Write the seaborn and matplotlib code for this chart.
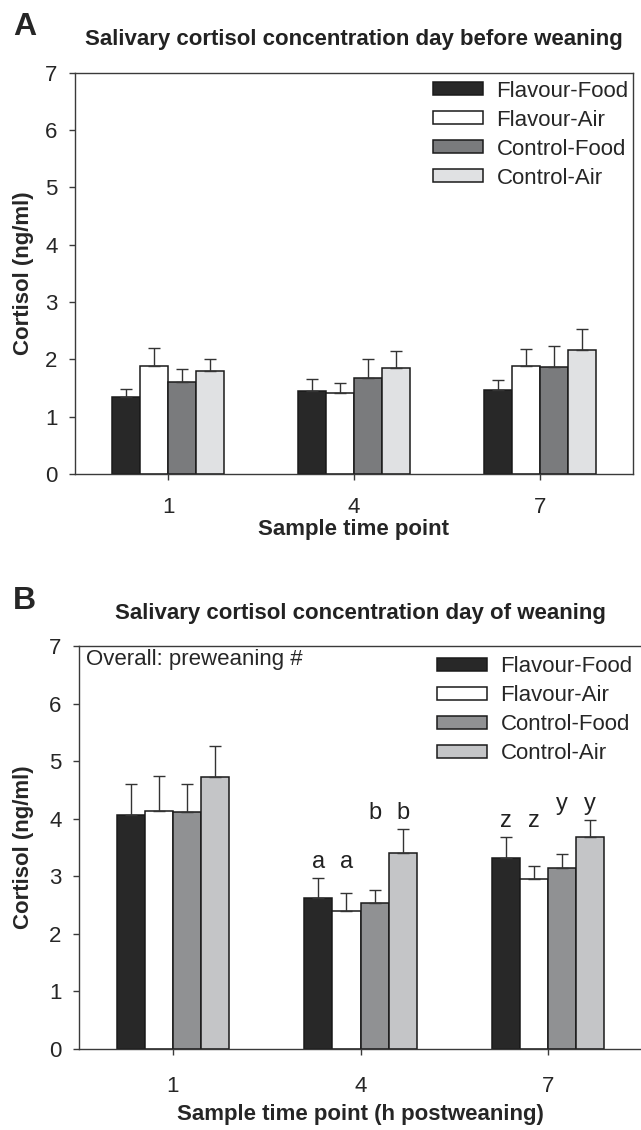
import numpy as np
import pandas as pd
import matplotlib
matplotlib.use("Agg")
import matplotlib.pyplot as plt
import seaborn as sns

# data
time_points = ['1', '4', '7']
groups = ['Flavour-Food', 'Flavour-Air', 'Control-Food', 'Control-Air']

# panel A: day before weaning (mean, upper SEM)
mean_a = {'Flavour-Food': [1.34, 1.45, 1.47],
          'Flavour-Air':  [1.88, 1.41, 1.89],
          'Control-Food': [1.61, 1.68, 1.87],
          'Control-Air':  [1.80, 1.85, 2.16]}
sem_a = {'Flavour-Food': [0.14, 0.21, 0.17],
         'Flavour-Air':  [0.32, 0.17, 0.29],
         'Control-Food': [0.22, 0.32, 0.37],
         'Control-Air':  [0.21, 0.30, 0.36]}

# panel B: day of weaning
mean_b = {'Flavour-Food': [4.06, 2.62, 3.31],
          'Flavour-Air':  [4.13, 2.40, 2.95],
          'Control-Food': [4.11, 2.53, 3.15],
          'Control-Air':  [4.72, 3.40, 3.68]}
sem_b = {'Flavour-Food': [0.54, 0.35, 0.37],
         'Flavour-Air':  [0.61, 0.31, 0.23],
         'Control-Food': [0.49, 0.24, 0.24],
         'Control-Air':  [0.55, 0.42, 0.29]}

# significance letters (panel B), per time point, in group order
letters_b = {'1': ['', '', '', ''],
             '4': ['a', 'a', 'b', 'b'],
             '7': ['z', 'z', 'y', 'y']}

colors_a = ['#282828', '#ffffff', '#7a7b7d', '#e0e1e3']
colors_b = ['#282828', '#ffffff', '#909193', '#c4c5c7']


def to_long(means):
    rows = []
    for g in groups:
        for t, v in zip(time_points, means[g]):
            rows.append({'time': t, 'group': g, 'cortisol': v})
    return pd.DataFrame(rows)


sns.set_style('white')
plt.rcParams['font.family'] = ['Liberation Sans', 'DejaVu Sans']
plt.rcParams['axes.edgecolor'] = '#3a3a3a'

W, H = 641, 1130
fig = plt.figure(figsize=(W / 100, H / 100), dpi=100)


def px_axes(left, right, top, bottom):
    return fig.add_axes([left / W, 1 - bottom / H, (right - left) / W, (bottom - top) / H])


def draw_panel(ax, means, sems, colors, xlabel, leg_x, leg_y, tick_pad, xlabpad):
    df = to_long(means)
    sns.barplot(data=df, x='time', y='cortisol', hue='group', hue_order=groups,
                order=time_points, palette=colors, width=0.6, gap=0,
                edgecolor='#1a1a1a', linewidth=1.1, errorbar=None, ax=ax)

    # upward-only SEM bars
    for g, cont in zip(groups, ax.containers):
        xs = [p.get_x() + p.get_width() / 2 for p in cont.patches]
        ys = [p.get_height() for p in cont.patches]
        ax.errorbar(xs, ys, yerr=[np.zeros(len(ys)), sems[g]], fmt='none',
                    ecolor='#333333', elinewidth=1.0, capsize=4, capthick=1.0, zorder=1)

    ax.set_ylim(0, 7)
    ax.set_xlim(-0.5, 2.5)
    ax.set_yticks(range(8))
    ax.tick_params(axis='both', direction='out', length=4.5, width=1,
                   color='#3a3a3a', labelsize=16, left=True, bottom=True)
    ax.tick_params(axis='x', pad=tick_pad)
    ax.tick_params(axis='y', pad=8)
    for s in ax.spines.values():
        s.set_linewidth(1.0)
        s.set_visible(True)
    ax.set_xlabel(xlabel, fontsize=16, fontweight='bold', labelpad=xlabpad)
    ax.set_ylabel('Cortisol (ng/ml)', fontsize=16, fontweight='bold')

    handles, labels = ax.get_legend_handles_labels()
    ax.legend(handles, labels, loc='upper left', bbox_to_anchor=(leg_x, leg_y),
              frameon=False, fontsize=16, handlelength=2.25, handleheight=0.5,
              handletextpad=0.6, labelspacing=0.36, borderpad=0, borderaxespad=0)


# panel A
ax_a = px_axes(75, 633, 72.6, 474)
draw_panel(ax_a, mean_a, sem_a, colors_a, 'Sample time point', 0.642, 0.98, 12, 1)
ax_a.yaxis.set_label_coords(-0.073, 0.5)

# panel B
ax_b = px_axes(79, 642, 646, 1049)
draw_panel(ax_b, mean_b, sem_b, colors_b, 'Sample time point (h postweaning)', 0.636, 0.974, 15, 5)
ax_b.yaxis.set_label_coords(-0.080, 0.5)
ax_b.text(0.012, 0.953, 'Overall: preweaning #', transform=ax_b.transAxes,
          fontsize=16, ha='left', va='baseline')

# letters above bar pairs
for j, t in enumerate(time_points):
    labs = letters_b[t]
    tops = [mean_b[g][j] + sem_b[g][j] for g in groups]
    for k, (g, cont) in enumerate(zip(groups, ax_b.containers)):
        if not labs[k]:
            continue
        pair = [0, 1] if k < 2 else [2, 3]
        y = max(tops[i] for i in pair) + 0.18
        p = cont.patches[j]
        ax_b.text(p.get_x() + p.get_width() / 2, y, labs[k], fontsize=17,
                  ha='center', va='baseline', color='#222222')

# titles and panel letters
fig.text(354 / W, 1 - 45 / H, 'Salivary cortisol concentration day before weaning',
         fontsize=16, fontweight='bold', ha='center', va='baseline', color='#222222')
fig.text(360 / W, 1 - 619 / H, 'Salivary cortisol concentration day of weaning',
         fontsize=16, fontweight='bold', ha='center', va='baseline', color='#222222')
fig.text(13 / W, 1 - 35 / H, 'A', fontsize=23, fontweight='bold', ha='left', va='baseline')
fig.text(13 / W, 1 - 609 / H, 'B', fontsize=23, fontweight='bold', ha='left', va='baseline')

fig.savefig('out.png', dpi=100)
